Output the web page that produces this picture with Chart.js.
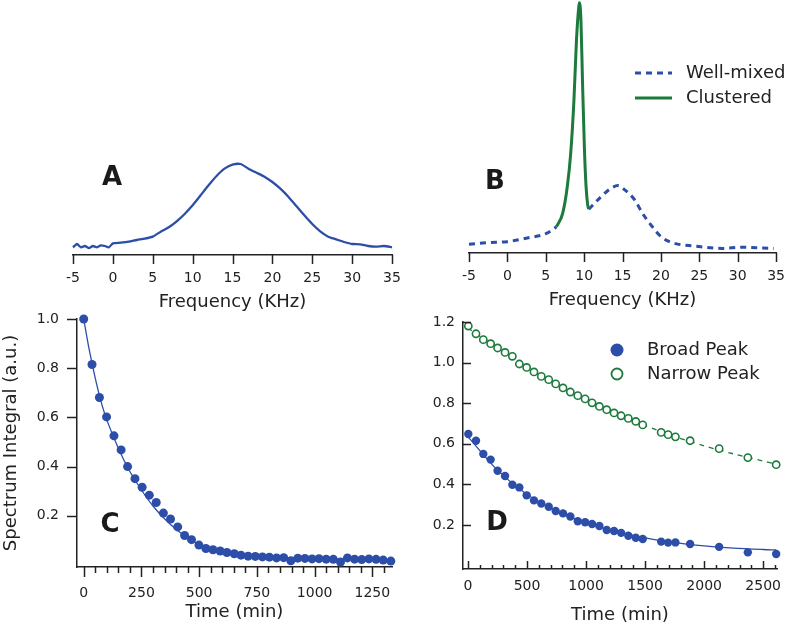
<!DOCTYPE html>
<html>
<head>
<meta charset="utf-8">
<script src="https://cdn.jsdelivr.net/npm/chart.js@4.4.1/dist/chart.umd.min.js"></script>
<style>
  body { margin: 0; background: #fff; }
  #wrap { position: relative; width: 800px; height: 628px; overflow: hidden; }
  #wrap canvas { position: absolute; left: 0; top: 0; }
  .tag { position: absolute; font: bold 26px "DejaVu Sans", sans-serif; color: #1a1a1a;
         line-height: 1; transform: translate(-50%, -50%); }
</style>
</head>
<body>
<div id="wrap">
  <canvas id="panelA" width="800" height="628"></canvas>
  <canvas id="panelB" width="800" height="628"></canvas>
  <canvas id="panelC" width="800" height="628"></canvas>
  <canvas id="panelD" width="800" height="628"></canvas>
  <div class="tag" style="left:112px;top:176px">A</div>
  <div class="tag" style="left:495px;top:180px">B</div>
  <div class="tag" style="left:110px;top:523px">C</div>
  <div class="tag" style="left:497px;top:521px">D</div>
</div>
<script>
// ---- data ----
// A: broad spectrum (normalised intensity vs frequency, kHz)
const freqA = [-5, -4.5, -4, -3.5, -3, -2.5, -2, -1.5, -1, -0.5, 0, 1, 2, 3, 4, 5, 6, 7, 8, 9, 10,
  11, 12, 13, 14, 15, 16, 17, 18, 19, 20, 21, 22, 23, 24, 25, 26, 27, 28, 29, 30, 31, 32, 33, 34, 35];
const specA = [0, 0.04, 0, 0.016, -0.008, 0.016, 0, 0.024, 0.016, 0, 0.048, 0.056, 0.068, 0.088, 0.104,
  0.128, 0.188, 0.24, 0.312, 0.40, 0.504, 0.624, 0.744, 0.856, 0.944, 0.992, 1.0, 0.944, 0.896, 0.848,
  0.784, 0.704, 0.608, 0.496, 0.384, 0.28, 0.192, 0.128, 0.096, 0.064, 0.04, 0.036, 0.016, 0.008, 0.016, 0];
const freqTicks = [-5, 0, 5, 10, 15, 20, 25, 30, 35];

// B: well-mixed (dashed, gap where the clustered peak sits) and clustered
const wellMixedF = [-5, -2.4, 0, 2.6, 5.1, 6.4, 8.5, 10.6, 12.2, 13.5, 14.4, 15.3, 16.6, 17.6, 18.7,
  20.1, 21.8, 24.3, 28, 30.5, 34.7];
const wellMixedI = [0, 0.007, 0.011, 0.026, 0.045, 0.073, null, 0.145, 0.197, 0.232, 0.243, 0.225,
  0.183, 0.128, 0.08, 0.029, 0.004, -0.007, -0.017, -0.012, -0.017];
const clusteredF = [6.4, 7.2, 7.8, 8.25, 8.67, 9.0, 9.3, 9.38, 9.58, 9.79, 10.04, 10.25, 10.46, 10.6];
const clusteredI = [0.073, 0.128, 0.238, 0.377, 0.597, 0.846, 0.983, 1.0, 0.928, 0.666, 0.39, 0.238, 0.163, 0.145];

// C: spectrum integral vs time (min)
const timeC = [0, 36, 68, 99, 131, 162, 190, 222, 253, 284, 314, 345, 376, 407, 437, 467, 499, 529,
  560, 591, 620, 652, 681, 712, 743, 774, 804, 835, 866, 897, 927, 958, 989, 1019, 1050, 1081, 1112,
  1142, 1173, 1204, 1235, 1266, 1297, 1330];
const integralC = [1.0, 0.815, 0.681, 0.602, 0.525, 0.468, 0.400, 0.351, 0.316, 0.284, 0.254, 0.211,
  0.187, 0.155, 0.120, 0.103, 0.081, 0.067, 0.062, 0.057, 0.051, 0.046, 0.040, 0.036, 0.035, 0.033,
  0.032, 0.029, 0.030, 0.017, 0.028, 0.027, 0.025, 0.026, 0.024, 0.023, 0.012, 0.029, 0.024, 0.022,
  0.025, 0.023, 0.020, 0.016];
const fitTimeC = [0, 25, 50, 75, 100, 150, 200, 250, 300, 350, 400, 450, 500, 550, 600, 650, 700, 800,
  900, 1000, 1100, 1200, 1330];
const fitC = [1.0, 0.87, 0.76, 0.665, 0.59, 0.475, 0.38, 0.305, 0.24, 0.188, 0.145, 0.11, 0.083, 0.064,
  0.052, 0.044, 0.037, 0.032, 0.029, 0.026, 0.024, 0.022, 0.02];
const timeTicksC = [0, 250, 500, 750, 1000, 1250];
const yTicksC = [0.2, 0.4, 0.6, 0.8, 1.0];

// D: broad and narrow peak integrals vs time (min)
const timeD = [3, 68, 130, 192, 251, 314, 376, 435, 497, 559, 621, 684, 743, 805, 867, 930, 992, 1051,
  1113, 1175, 1237, 1297, 1358, 1421, 1480, 1636, 1695, 1757, 1881, 2127, 2370, 2610];
const broadPeak = [0.648, 0.615, 0.550, 0.522, 0.467, 0.441, 0.398, 0.385, 0.346, 0.321, 0.306, 0.290,
  0.269, 0.257, 0.242, 0.218, 0.213, 0.205, 0.195, 0.175, 0.170, 0.161, 0.147, 0.137, 0.131, 0.118,
  0.113, 0.114, 0.106, 0.092, 0.065, 0.057];
const narrowPeak = [1.18, 1.142, 1.113, 1.093, 1.072, 1.050, 1.031, 0.993, 0.976, 0.954, 0.932, 0.916,
  0.895, 0.875, 0.855, 0.837, 0.821, 0.802, 0.784, 0.768, 0.752, 0.738, 0.725, 0.710, 0.693, 0.656,
  0.645, 0.634, 0.615, 0.576, 0.532, 0.497];
const fitTimeD = [0, 250, 500, 750, 1000, 1250, 1500, 1750, 2000, 2250, 2500, 2610];
const broadFit = [0.635, 0.47, 0.35, 0.268, 0.21, 0.168, 0.136, 0.113, 0.097, 0.086, 0.079, 0.077];
const narrowFit = [1.17, 1.07, 0.975, 0.893, 0.82, 0.752, 0.69, 0.636, 0.59, 0.55, 0.515, 0.50];
const timeTicksD = [0, 500, 1000, 1500, 2000, 2500];
const yTicksD = [0.2, 0.4, 0.6, 0.8, 1.0, 1.2];

// ---- styling ----
const blue = '#2d4ea8';
const green = '#1c7a3d';
const ink = '#222';

Chart.defaults.font.family = '"DejaVu Sans", sans-serif';
Chart.defaults.color = ink;
Chart.defaults.animation = false;

const pts = (xs, ys) => xs.map((x, i) => ({ x, y: ys[i] }));

// tick marks (major + minor, in or out) and in-plot legends
const decor = {
  id: 'decor',
  afterDraw(chart, args, o) {
    const ctx = chart.ctx, a = chart.chartArea;
    ctx.save();
    ctx.strokeStyle = ink;
    ctx.lineWidth = 1.5;
    (o.marks || []).forEach(m => {
      const s = chart.scales[m.axis];
      const n = Math.round((m.to - m.from) / m.step);
      for (let i = 0; i <= n; i++) {
        const v = m.from + i * m.step;
        const isMajor = Math.abs(v / m.major - Math.round(v / m.major)) < 1e-6;
        const len = (isMajor ? m.len : m.minorLen) * m.dir;
        const p = Math.round(s.getPixelForValue(v)) + 0.5;
        ctx.beginPath();
        if (s.isHorizontal()) { ctx.moveTo(p, a.bottom); ctx.lineTo(p, a.bottom + len); }
        else { ctx.moveTo(a.left, p); ctx.lineTo(a.left - len, p); }
        ctx.stroke();
      }
    });
    ctx.font = '18px "DejaVu Sans", sans-serif';
    ctx.textBaseline = 'middle';
    (o.legend || []).forEach(l => {
      ctx.strokeStyle = l.color;
      ctx.fillStyle = l.color;
      if (l.kind === 'line' || l.kind === 'dash') {
        ctx.lineWidth = 3;
        ctx.setLineDash(l.kind === 'dash' ? [6, 5] : []);
        ctx.beginPath(); ctx.moveTo(l.x, l.y); ctx.lineTo(l.x + 37, l.y); ctx.stroke();
        ctx.setLineDash([]);
      } else {
        ctx.beginPath(); ctx.arc(l.x + 6, l.y, l.kind === 'dot' ? 6.5 : 5.5, 0, Math.PI * 2);
        if (l.kind === 'dot') ctx.fill(); else { ctx.lineWidth = 1.8; ctx.stroke(); }
      }
      ctx.fillStyle = ink;
      ctx.fillText(l.text, l.tx, l.y);
    });
    ctx.restore();
  }
};
Chart.register(decor);

function xAxis(min, max, ticks, pad, height, title) {
  return {
    type: 'linear', min, max,
    afterBuildTicks: s => { s.ticks = ticks.map(v => ({ value: v })); },
    afterFit: s => { s.height = height; },
    grid: { display: false, drawTicks: false },
    border: { display: true, color: ink, width: 1.5 },
    ticks: { padding: pad, autoSkip: false, maxRotation: 0, font: { size: 14 }, color: ink,
      callback: v => String(v) },
    title: { display: true, text: title, font: { size: 18 }, color: ink, padding: 0 }
  };
}

function yAxis(min, max, ticks, pad, width, title) {
  return {
    type: 'linear', min, max,
    afterBuildTicks: s => { s.ticks = ticks.map(v => ({ value: v })); },
    afterFit: s => { s.width = width; },
    grid: { display: false, drawTicks: false },
    border: { display: true, color: ink, width: 1.5 },
    ticks: { padding: pad, font: { size: 14 }, color: ink, callback: v => v.toFixed(1) },
    title: { display: !!title, text: title || '', font: { size: 18 }, color: ink, padding: 1 }
  };
}

function baseOptions(padding, scales, decorOpts) {
  return {
    responsive: false,
    layout: { padding },
    scales,
    plugins: { legend: { display: false }, tooltip: { enabled: false }, decor: decorOpts }
  };
}

// Panel A
new Chart(document.getElementById('panelA'), {
  type: 'scatter',
  data: { datasets: [{
    data: pts(freqA, specA), showLine: true, borderColor: blue, borderWidth: 2.3,
    pointRadius: 0, tension: 0.2, clip: false
  }] },
  options: baseOptions({ left: 73, right: 408, top: 130, bottom: 315 }, {
    x: xAxis(-5, 35, freqTicks, 15, 58, 'Frequency (KHz)'),
    y: { display: false, min: -0.092, max: 1.408 }
  }, { marks: [{ axis: 'x', from: -5, to: 35, step: 5, major: 5, len: 9, minorLen: 9, dir: 1 }] })
});

// Panel B
new Chart(document.getElementById('panelB'), {
  type: 'scatter',
  data: { datasets: [
    { label: 'Clustered', data: pts(clusteredF, clusteredI), showLine: true, borderColor: green,
      borderWidth: 3, pointRadius: 0, cubicInterpolationMode: 'monotone', clip: false },
    { label: 'Well-mixed', data: pts(wellMixedF, wellMixedI), showLine: true, borderColor: blue,
      borderWidth: 3, borderDash: [6, 5], pointRadius: 0, cubicInterpolationMode: 'monotone',
      spanGaps: false, clip: false }
  ] },
  options: baseOptions({ left: 469, right: 11, top: 0, bottom: 317 }, {
    x: xAxis(-5, 35, freqTicks, 15, 58, 'Frequency (KHz)'),
    y: { display: false, min: -0.036, max: 1.011 }
  }, {
    marks: [{ axis: 'x', from: -5, to: 35, step: 5, major: 5, len: 9, minorLen: 9, dir: 1 }],
    legend: [
      { kind: 'dash', color: blue, x: 635, y: 73, tx: 686, text: 'Well-mixed' },
      { kind: 'line', color: green, x: 635, y: 98, tx: 686, text: 'Clustered' }
    ]
  })
});

// Panel C
new Chart(document.getElementById('panelC'), {
  type: 'scatter',
  data: { datasets: [
    { data: pts(timeC, integralC), backgroundColor: blue, borderColor: blue, pointRadius: 4.5,
      pointBorderWidth: 0, clip: false },
    { data: pts(fitTimeC, fitC), showLine: true, borderColor: blue, borderWidth: 1.3, pointRadius: 0,
      tension: 0.3, clip: false }
  ] },
  options: baseOptions({ left: 0, right: 408, top: 319, bottom: 5 }, {
    x: xAxis(-29, 1335, timeTicksC, 18, 56, 'Time (min)'),
    y: yAxis(-0.008, 1.0, yTicksC, 18, 77, 'Spectrum Integral (a.u.)')
  }, {
    marks: [
      { axis: 'x', from: 0, to: 1300, step: 50, major: 250, len: 10, minorLen: 6, dir: 1 },
      { axis: 'y', from: 0.2, to: 1.0, step: 0.2, major: 0.2, len: 10, minorLen: 10, dir: 1 }
    ]
  })
});

// Panel D
new Chart(document.getElementById('panelD'), {
  type: 'scatter',
  data: { datasets: [
    { label: 'Broad Peak', data: pts(timeD, broadPeak), backgroundColor: blue, borderColor: blue,
      pointRadius: 4.2, pointBorderWidth: 0, clip: false },
    { label: 'Narrow Peak', data: pts(timeD, narrowPeak), backgroundColor: '#fff', borderColor: green,
      pointRadius: 3.6, pointBorderWidth: 1.6, clip: false },
    { data: pts(fitTimeD, broadFit), showLine: true, borderColor: blue, borderWidth: 1.3, pointRadius: 0,
      tension: 0.3, clip: false },
    { data: pts(fitTimeD, narrowFit), showLine: true, borderColor: green, borderWidth: 1.3,
      borderDash: [5, 5], pointRadius: 0, tension: 0.3, clip: false }
  ] },
  options: baseOptions({ left: 400, right: 23, top: 322, bottom: 2 }, {
    x: xAxis(-42, 2617, timeTicksD, 9, 57, 'Time (min)'),
    y: yAxis(-0.017, 1.2, yTicksD, 8, 63, '')
  }, {
    marks: [
      { axis: 'x', from: 0, to: 2600, step: 100, major: 500, len: 8, minorLen: 4, dir: -1 },
      { axis: 'y', from: 0.2, to: 1.2, step: 0.2, major: 0.2, len: 8, minorLen: 8, dir: -1 }
    ],
    legend: [
      { kind: 'dot', color: blue, x: 611, y: 350, tx: 647, text: 'Broad Peak' },
      { kind: 'ring', color: green, x: 611, y: 374, tx: 647, text: 'Narrow Peak' }
    ]
  })
});
</script>
</body>
</html>
